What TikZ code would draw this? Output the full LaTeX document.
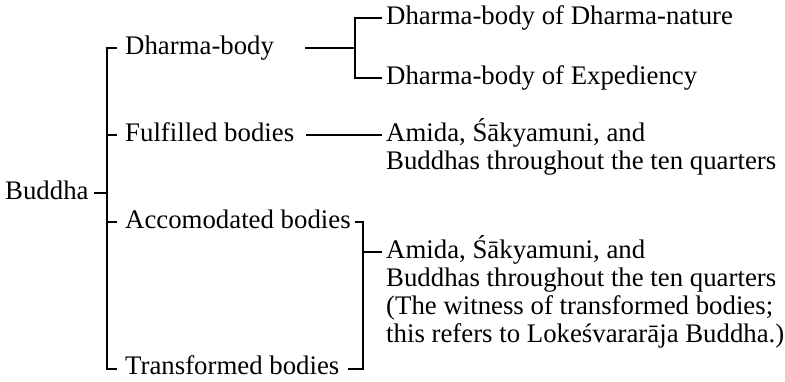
\documentclass[tikz,border=0pt]{standalone}
\usepackage{fontspec}
\setmainfont{Liberation Serif}

\begin{document}
\begin{tikzpicture}[x=1pt,y=-1pt,
  every node/.style={font=\fontsize{26.8}{28}\selectfont},
  lbl/.style={anchor=base west,inner sep=0pt,text height=18pt,text depth=6pt},
  lines/.style={anchor=base west,inner sep=0pt},
  brk/.style={line width=2.4pt}]
\useasboundingbox (0,0) rectangle (785,381);
% left column
\node[lbl] (buddha) at (5,199) {Buddha};
\node[lbl] (dbody) at (125,54) {Dharma-body};
\node[lbl] (fbody) at (125,141) {Fulfilled bodies};
\node[lbl] (abody) at (125,228) {Accomodated bodies};
\node[lbl,text height=14pt,text depth=4pt] (tbody) at (125,374) {Transformed bodies};
% right column
\node[lbl] (dnat) at (386,24) {Dharma-body of Dharma-nature};
\node[lbl] (dexp) at (386,84) {Dharma-body of Expediency};
\node[lines] (fall) at (386,141) {\vtop{\hbox{Amida, Śākyamuni, and}
  \hbox{Buddhas throughout the ten quarters}}};
\node[lines] (aall) at (386,258) {\vtop{\hbox{Amida, Śākyamuni, and}
  \hbox{Buddhas throughout the ten quarters}
  \hbox{(The witness of transformed bodies;}
  \hbox{this refers to Lokeśvararāja Buddha.)}}};
% brackets
\coordinate (sp) at ([xshift=-18pt]dbody.west);
\draw[brk] ([xshift=-8pt]dbody.west) -- (sp) |- ([xshift=-8pt]tbody.west);
\draw[brk] ([xshift=-8pt]fbody.west) -- (sp |- fbody.west);
\draw[brk] ([xshift=-8pt]abody.west) -- (sp |- abody.west);
\draw[brk] ([xshift=5pt]buddha.east) -- (sp |- buddha.east);
\coordinate (dx) at ([xshift=-31pt]dnat.west);
\draw[brk] ([xshift=-4pt]dnat.west) -- (dx) |- ([xshift=-4pt]dexp.west);
\draw[brk] (dx |- dbody.west) -- ++(-50,0);
\draw[brk] ([xshift=-4pt,yshift=6pt]fall.base west) -- ++(-76,0);
\coordinate (ax) at ([xshift=-23pt,yshift=6pt]aall.base west);
\draw[brk] ([xshift=4pt]abody.east) -- (ax |- abody.east) |- ([xshift=8pt]tbody.east);
\draw[brk] (ax) -- ([xshift=-4pt,yshift=6pt]aall.base west);
\end{tikzpicture}
\end{document}
